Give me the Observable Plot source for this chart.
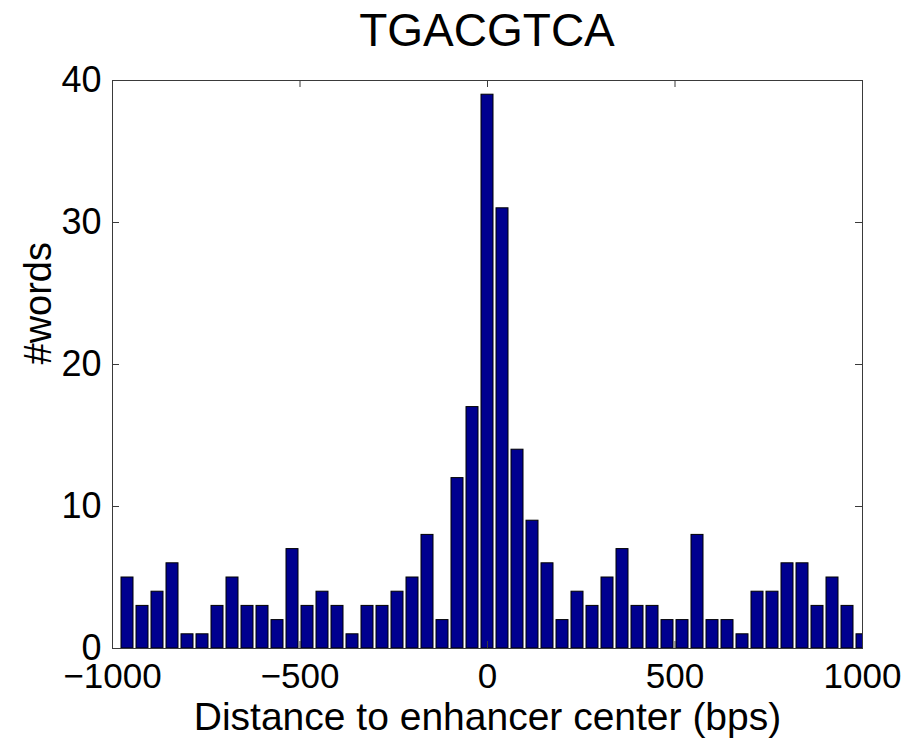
<!DOCTYPE html>
<html>
<head>
<meta charset="utf-8">
<script src="https://cdn.jsdelivr.net/npm/d3@7"></script>
<script src="https://cdn.jsdelivr.net/npm/@observablehq/plot@0.6"></script>
<style>
  html, body { margin: 0; padding: 0; background: #fff; }
  #chart { width: 912px; height: 739px; font-family: "Liberation Sans", Arial, sans-serif; }
  #title {
    margin-left: 112px; width: 750px; height: 60px; line-height: 60px;
    text-align: center; font-size: 46px; color: #000;
  }
  svg { display: block; }
</style>
</head>
<body>
<div id="chart">
  <div id="title">TGACGTCA</div>
</div>
<script>
// Histogram of word positions relative to the enhancer center (40 bp bins)
const binCenters = [
  -960, -920, -880, -840, -800, -760, -720, -680, -640, -600,
  -560, -520, -480, -440, -400, -360, -320, -280, -240, -200,
  -160, -120, -80, -40, 0, 40, 80, 120, 160, 200,
  240, 280, 320, 360, 400, 440, 480, 520, 560, 600,
  640, 680, 720, 760, 800, 840, 880, 920, 960, 1000
];
const wordCounts = [
  5, 3, 4, 6, 1, 1, 3, 5, 3, 3,
  2, 7, 3, 4, 3, 1, 3, 3, 4, 5,
  8, 2, 12, 17, 39, 31, 14, 9, 6, 2,
  4, 3, 5, 7, 3, 3, 2, 2, 8, 2,
  2, 1, 4, 4, 6, 6, 3, 5, 3, 1
];
const xTicks = [-1000, -500, 0, 500, 1000];
const yTicks = [0, 10, 20, 30, 40];

const barHalfWidth = 16; // bars fill 80% of each 40 bp bin

const bins = binCenters.map((c, i) => ({center: c, count: wordCounts[i]}));

const W = 912, H = 679;
const mL = 112, mR = 50, mT = 20, mB = 91;
const innerW = W - mL - mR, innerH = H - mT - mB;
const tickLen = 7;
const axisColor = "#3a3a3a";

const plot = Plot.plot({
  width: W,
  height: H,
  marginLeft: mL,
  marginRight: mR,
  marginTop: mT,
  marginBottom: mB,
  style: {fontFamily: "'Liberation Sans', Arial, sans-serif", color: "#000", background: "#fff"},
  x: {domain: [-1000, 1000]},
  y: {domain: [0, 40]},
  marks: [
    Plot.rectY(bins, {
      x1: d => d.center - barHalfWidth,
      x2: d => d.center + barHalfWidth,
      y1: 0,
      y2: "count",
      fill: "#00008f",
      stroke: "#000",
      strokeWidth: 1,
      clip: true
    }),
    Plot.frame({stroke: axisColor, strokeWidth: 1}),
    // inward ticks on all four sides
    Plot.tickX(xTicks, {x: d => d, insetTop: innerH - tickLen, stroke: axisColor}),
    Plot.tickX(xTicks, {x: d => d, insetBottom: innerH - tickLen, stroke: axisColor}),
    Plot.tickY(yTicks, {y: d => d, insetRight: innerW - tickLen, stroke: axisColor}),
    Plot.tickY(yTicks, {y: d => d, insetLeft: innerW - tickLen, stroke: axisColor}),
    Plot.axisX(xTicks, {
      tickSize: 0, tickPadding: 15, fontSize: 35, label: null,
      tickFormat: d => d < 0 ? "\u2212" + Math.abs(d) : String(d)
    }),
    Plot.axisY(yTicks, {tickSize: 0, tickPadding: 11, fontSize: 36, label: null}),
    Plot.text(["Distance to enhancer center (bps)"], {
      frameAnchor: "bottom", lineAnchor: "top", dy: 54, fontSize: 39, fill: "#000"
    }),
    Plot.text(["#words"], {
      frameAnchor: "left", rotate: -90, dx: -74, fontSize: 38, fill: "#000"
    })
  ]
});

document.getElementById("chart").appendChild(plot);
</script>
</body>
</html>
